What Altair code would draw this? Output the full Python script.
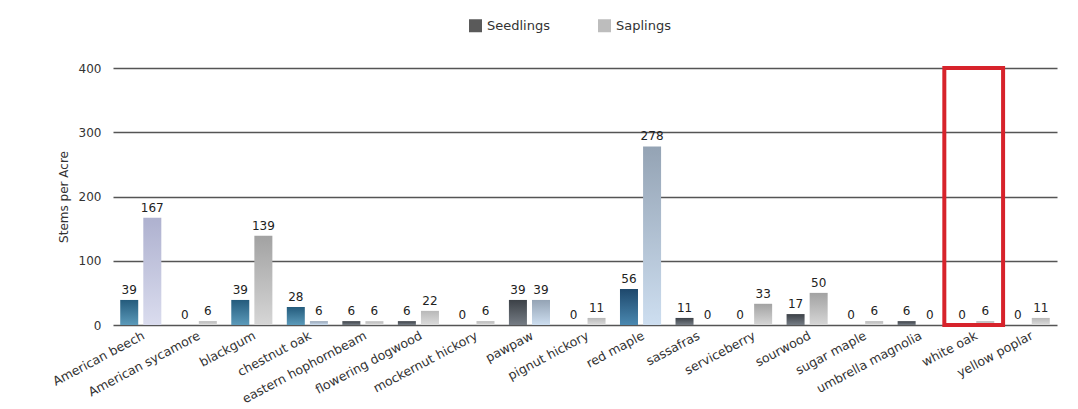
import altair as alt
import pandas as pd

# Stems per acre by species, regeneration survey
species = [
    "American beech", "American sycamore", "blackgum", "chestnut oak",
    "eastern hophornbeam", "flowering dogwood", "mockernut hickory", "pawpaw",
    "pignut hickory", "red maple", "sassafras", "serviceberry", "sourwood",
    "sugar maple", "umbrella magnolia", "white oak", "yellow poplar",
]
seedlings = [39, 0, 39, 28, 6, 6, 0, 39, 0, 56, 11, 0, 17, 0, 6, 0, 0]
saplings = [167, 6, 139, 6, 6, 22, 6, 39, 11, 278, 0, 33, 50, 6, 0, 6, 11]
series = ["Seedlings", "Saplings"]
highlight = ["white oak"]

FONT = "DejaVu Sans"

# shading groups for the bar fills
seedling_tone = {"American beech": "blue", "blackgum": "blue",
                 "chestnut oak": "blue", "red maple": "navy"}
sapling_tone = {"American beech": "lavender", "red maple": "steel",
                "pawpaw": "steel", "chestnut oak": "steel",
                "blackgum": "gray", "sourwood": "gray", "serviceberry": "gray"}
tones = {
    "blue": ("#245b7c", "#5b9aba"),
    "navy": ("#1e486c", "#4a88b0"),
    "dark": ("#3c4147", "#757c84"),
    "lavender": ("#aeb1cf", "#dadcee"),
    "steel": ("#94a3b4", "#cddef0"),
    "gray": ("#a2a2a2", "#d6d6d6"),
    "light": ("#b8b8b8", "#dcdcdc"),
}

rows = []
for i, sp in enumerate(species):
    rows.append({"species": sp, "series": "Seedlings", "value": seedlings[i],
                 "tone": seedling_tone.get(sp, "dark")})
    rows.append({"species": sp, "series": "Saplings", "value": saplings[i],
                 "tone": sapling_tone.get(sp, "light")})
df = pd.DataFrame(rows)

x_scale = alt.Scale(domain=species, paddingInner=0.26, paddingOuter=0.13)
x_enc = alt.X("species:N", sort=species, title=None, scale=x_scale,
              axis=alt.Axis(labelAngle=-28, labelAlign="right", labelBaseline="top",
                            labelFontSize=12.5, labelFont=FONT, labelColor="#333",
                            domain=False, ticks=False, labelPadding=4, grid=False))
x_plain = alt.X("species:N", sort=species, scale=x_scale, title=None)
xoff = alt.XOffset("series:N", sort=series,
                   scale=alt.Scale(domain=series, paddingInner=0.22, paddingOuter=0))
y_scale = alt.Scale(domain=[0, 400], nice=False)
y_enc = alt.Y("value:Q", scale=y_scale, title="Stems per Acre",
              axis=alt.Axis(values=list(range(0, 401, 50)),
                            labelExpr="datum.value % 100 == 0 ? datum.label : ''",
                            labelFontSize=12, labelFont=FONT, labelColor="#333",
                            labelPadding=12, ticks=False, domain=False,
                            gridColor="#555555", gridWidth=1.6,
                            titleFont=FONT, titleFontSize=12, titleFontWeight="normal",
                            titleColor="#333", titlePadding=8))

base = alt.Chart(df)

# one bar layer per shading group, each with its own vertical gradient
bar_layers = []
for name, (top, bottom) in tones.items():
    grad = alt.Gradient(gradient="linear",
                        stops=[alt.GradientStop(color=top, offset=0),
                               alt.GradientStop(color=bottom, offset=1)],
                        x1=0, x2=0, y1=0, y2=1)
    enc_x = x_enc if not bar_layers else x_plain
    bar_layers.append(
        base.transform_filter(alt.datum.tone == name)
        .mark_bar(color=grad)
        .encode(x=enc_x, xOffset=xoff, y=y_enc)
    )

# zero-height bars that only carry the legend
legend_layer = base.mark_bar().encode(
    x=x_plain, xOffset=xoff,
    y=alt.datum(0, scale=y_scale),
    color=alt.Color("series:N", sort=series,
                    scale=alt.Scale(domain=series, range=["#5a5a5a", "#bdbdbd"]),
                    legend=alt.Legend(title=None, orient="none", direction="horizontal",
                                      legendX=356, legendY=-49, symbolType="square",
                                      symbolSize=169, symbolStrokeWidth=0,
                                      labelFont=FONT, labelFontSize=13,
                                      labelColor="#333", labelOffset=5,
                                      columnPadding=48, padding=0)),
)

labels = base.mark_text(baseline="bottom", dy=-3, font=FONT, fontSize=12,
                        color="#222").encode(
    x=x_plain, xOffset=xoff,
    y=alt.Y("value:Q", scale=y_scale), text="value:Q")

box_df = pd.DataFrame({"species": highlight, "top": [400], "bottom": [0]})
box = alt.Chart(box_df).mark_bar(filled=False, stroke="#d7232b", strokeWidth=4,
                                 width=alt.RelativeBandSize(1.43)).encode(
    x=x_plain,
    y=alt.Y("top:Q", scale=y_scale), y2="bottom:Q")

chart = alt.layer(*bar_layers, legend_layer, labels, box).properties(
    width=944, height=257,
    autosize=alt.AutoSizeParams(type="none"),
    padding={"left": 113, "top": 68, "right": 21, "bottom": 84},
    background="white",
).configure_view(stroke=None)

chart.save("out.html", embed_options={"renderer": "svg", "actions": False})
